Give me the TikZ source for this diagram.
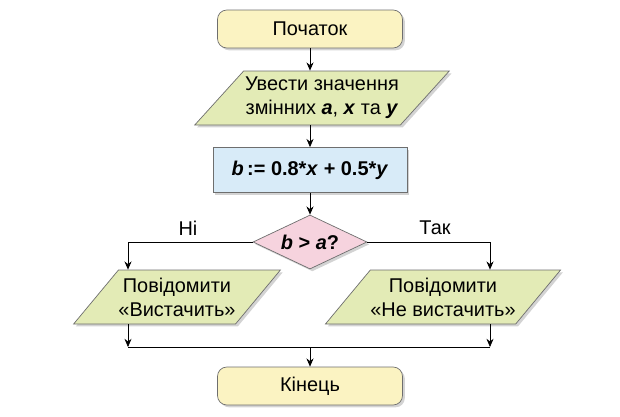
\documentclass[tikz,border=0pt]{standalone}
\usepackage{fontspec}
\setmainfont{Liberation Sans}
\usetikzlibrary{shapes.geometric,shadows,arrows.meta}
\definecolor{termfill}{HTML}{FBF3C2}
\definecolor{iofill}{HTML}{E3EBB6}
\definecolor{procfill}{HTML}{D8EBF8}
\definecolor{condfill}{HTML}{F6D3DE}
\definecolor{edgegray}{HTML}{6E6E6E}

\begin{document}
\begin{tikzpicture}[
    x=0.03cm, y=-0.03cm, line width=0.6pt,
    every node/.style={font=\fontsize{17}{20.5}\selectfont, align=center},
    shade/.style={drop shadow={opacity=0.35, shadow xshift=2pt, shadow yshift=-2pt}},
    term/.style={rectangle, rounded corners=8pt, draw=edgegray, fill=termfill, minimum width=5.55cm, minimum height=1.14cm, shade},
    iobox/.style={trapezium, trapezium left angle=46, trapezium right angle=134, trapezium stretches=true, draw=edgegray, fill=iofill, minimum height=1.62cm, inner xsep=0pt, shade},
    procbox/.style={rectangle, draw=edgegray, fill=procfill, minimum width=5.82cm, minimum height=1.35cm, shade},
    condbox/.style={diamond, aspect=2.1, draw=edgegray, fill=condfill, minimum width=3.42cm, minimum height=1.62cm, inner sep=0pt, shade},
    arrow/.style={-{Stealth[length=7pt, width=6pt]}}
]
\useasboundingbox (0,0) rectangle (620,416);

% Blocks
\node [term] (start) at (310,29) {Початок};
\node [iobox, minimum width=7.65cm] (input) at (322,98) {Увести значення\\змінних \textbf{\textit{a}}, \textbf{\textit{x}} та \textbf{\textit{y}}};
\node [procbox] (calc) at (310,170) {\textbf{\textit{b}\,:= 0.8*\textit{x} + 0.5*\textit{y}}};
\node [condbox] (cond) at (310,242) {\textbf{\textit{b} > \textit{a}?}};
\node [iobox, minimum width=4.35cm] (no) at (177,297) {Повідомити\\«Вистачить»};
\node [iobox, minimum width=4.47cm] (yes) at (443,297) {Повідомити\\«Не вистачить»};
\node [term] (stop) at (310,386) {Кінець};

% Helper points
\coordinate (noturn) at (128,242);
\coordinate (yesturn) at (490,242);
\coordinate (nojoin) at (128,347);
\coordinate (yesjoin) at (490,347);
\coordinate (join) at (310,347);

% Connectors
\draw [arrow] (start) -- (start |- input.north);
\draw [arrow] (input.south -| calc.north) -- (calc);
\draw [arrow] (calc) -- (cond);
\draw [arrow] (cond.west) -- (noturn) -- (noturn |- no.north);
\draw [arrow] (cond.east) -- (yesturn) -- (yesturn |- yes.north);
\draw [arrow] (nojoin |- no.south) -- (nojoin);
\draw [arrow] (yesjoin |- yes.south) -- (yesjoin);
\draw (nojoin) -- (yesjoin);
\draw [arrow] (join) -- (stop);

% Branch labels
\node (nolabel) at (188,228) {Ні};
\node (yeslabel) at (435,228) {Так};
\end{tikzpicture}
\end{document}
